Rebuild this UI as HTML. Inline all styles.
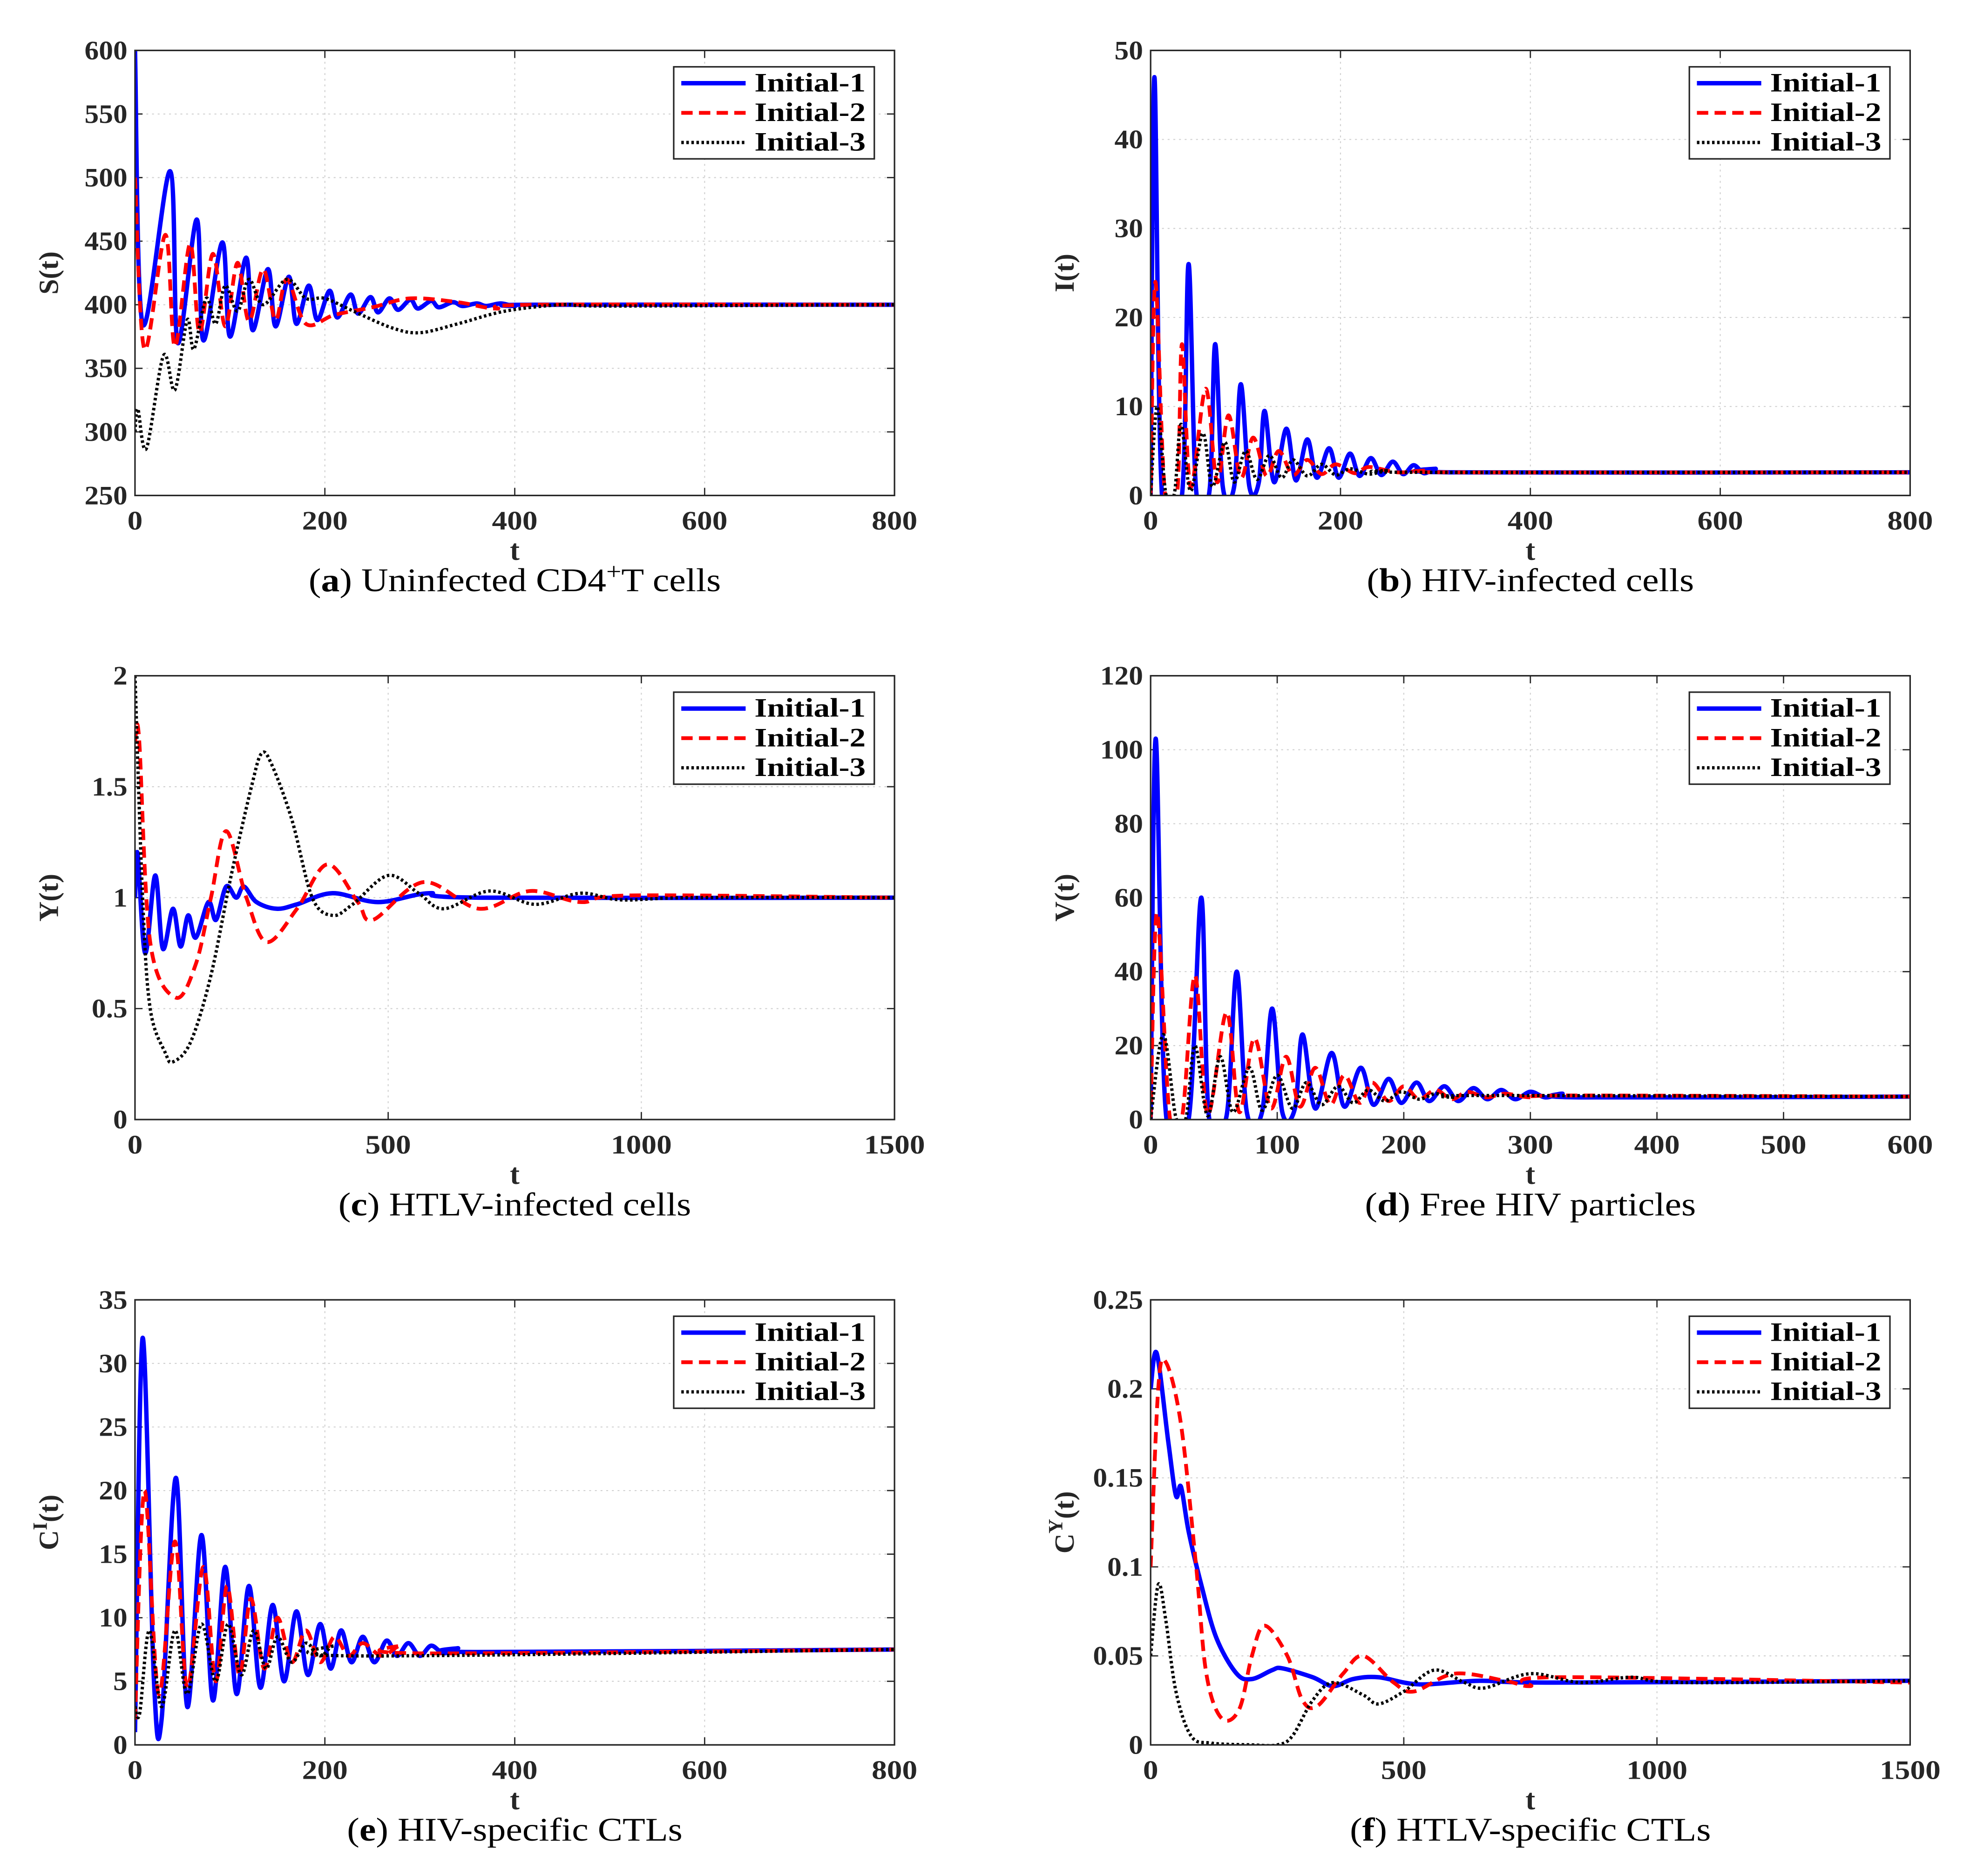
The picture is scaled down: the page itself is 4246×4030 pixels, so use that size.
<!DOCTYPE html>
<html><head><meta charset="utf-8"><style>
html,body{margin:0;padding:0;background:#fff}
svg{display:block}
text{font-family:"Liberation Serif",serif}
</style></head><body>
<svg id="fig" xmlns="http://www.w3.org/2000/svg" width="4246" height="4030" viewBox="0 0 1567 1488" preserveAspectRatio="none"></svg>
<script>
// ---- data (t arrays and value arrays per series) ----
const aT1=[0,8,37,45,65,72,92,100,117,124,140,148,162,170,183,192,205,213,227,235,248,256,268,277,290,298,312,320,335,345,360,370,385,400,420,800];
const aV1=[600,385,505,370,467,372,449,375,437,380,428,383,422,385,415,388,411,390,408,393,406,394,405,396,404,397,403,398,402,399,401,399,401,399,400,400];
const aT2=[0,10,32,42,58,68,82,95,108,120,135,148,160,180,210,250,290,340,380,420,800];
const aV2=[500,365,455,367,448,378,440,383,433,387,428,388,420,385,392,398,405,402,397,400,400];
const aT3=[0,3,12,30,42,55,62,75,85,95,108,120,135,160,180,200,230,270,300,340,390,450,500,800];
const aV3=[300,318,287,360,333,388,365,405,385,415,395,420,400,420,405,405,395,382,378,385,395,400,399,400];

const bT1=[0,4,12,33,40,48,62,68,76,88,95,104,114,120,130,143,153,165,175,188,198,210,220,232,243,255,266,277,288,300,320,800];
const bV1=[0,47,0,0,26,0.5,0.5,17,1,1,12.5,1,1.5,9.5,1.5,7.5,1.7,6.3,2,5.3,2,4.7,2.2,4.2,2.3,3.8,2.4,3.4,2.5,3,2.6,2.6];
const bT2=[0,5,15,28,33,42,58,70,82,95,108,122,135,150,165,180,195,215,230,260,290,320,800];
const bV2=[0,24,0.3,0.3,17,1,12,1.5,9,2,6.5,2.2,5,2.3,4,2.4,3.5,2.5,3.2,2.6,2.8,2.6,2.6];
const bT3=[0,7,16,25,32,42,55,65,78,88,100,112,125,138,150,165,180,195,210,230,250,280,800];
const bV3=[0,10,0.2,0.2,8,0.5,7,1,6,1.5,5,1.8,4.5,2,4,2.2,3.5,2.3,3,2.4,2.8,2.6,2.6];

const cT1=[0,5,20,40,55,75,90,105,120,145,160,180,200,215,240,280,320,390,480,580,680,1500];
const cV1=[1,1.2,0.75,1.1,0.77,0.95,0.78,0.92,0.82,0.98,0.9,1.05,1.0,1.05,0.98,0.95,0.97,1.02,0.98,1.02,1.0,1.0];
const cT2=[0,8,30,80,120,150,180,220,260,320,380,440,470,570,680,780,880,980,1500];
const cV2=[1.7,1.72,0.8,0.55,0.7,1.0,1.3,1.0,0.8,0.95,1.15,0.98,0.9,1.07,0.95,1.03,0.98,1.01,1.0];
const cT3=[0,15,30,60,75,110,150,190,230,250,270,310,350,390,430,500,560,610,700,790,880,960,1100,1500];
const cV3=[2,1.0,0.5,0.3,0.26,0.35,0.65,1.1,1.5,1.65,1.6,1.35,1.0,0.92,0.97,1.1,1.02,0.95,1.03,0.97,1.02,0.99,1.0,1.0];

const dT1=[0,4,12,30,40,46,60,68,76,88,96,104,114,120,130,143,153,166,176,188,198,210,220,232,243,255,266,277,288,300,312,325,340,600];
const dV1=[0,103,2,0,60,1,1,40,2,2,30,2,3,23,3,18,3.5,14,4,11,4.5,10,5,9,5,8.5,5.5,8,5.5,7.5,6,7,6,6.2];
const dT2=[0,5,15,25,35,45,60,70,82,95,107,118,130,142,153,165,175,188,200,212,225,238,250,265,280,300,330,600];
const dV2=[0,56,1,1,39,1.5,29,2,22,3,17,3.5,14,4,12,4.5,10,5,9,5.5,8,5.5,7.5,6,7,6,6.5,6.2];
const dT3=[0,10,20,28,35,45,55,65,78,88,100,112,123,135,148,160,172,185,198,212,225,240,260,600];
const dV3=[0,23,0.5,0.5,20,1,17,2,14,2.5,12,3,10,4,9,4.5,8,5,7.5,5.5,7,6,6.5,6.2];

const eT1=[0,8,20,28,43,55,70,82,95,107,120,132,145,157,170,182,195,206,217,228,240,252,265,276,288,300,312,325,340,360,800];
const eV1=[1,32,5,2,21,3,16.5,3.5,14,4,12.5,4.5,11,5,10.5,5.5,9.5,6,9,6.5,8.5,6.5,8.2,7,8,7,7.8,7.2,7.6,7.3,7.5];
const eT2=[0,10,25,42,55,72,85,97,110,122,136,150,165,180,195,210,225,240,260,280,300,800];
const eV2=[2,20,4,16,4.5,14,5,12.5,5.5,11.5,6,10,6.5,9,6.5,8.5,7,8,7,7.8,7.2,7.5];
const eT3=[0,5,15,28,42,55,70,85,98,112,125,138,150,165,180,195,210,230,800];
const eV3=[3,2.5,9,3,9,4,9.5,5,9.5,5.5,9,6,8.5,6.5,8,7,7.8,7,7.5];

const fT1=[0,12,35,50,60,75,100,130,170,200,240,260,320,360,400,450,530,650,800,1500];
const fV1=[0.2,0.22,0.17,0.14,0.145,0.12,0.09,0.06,0.04,0.037,0.042,0.043,0.038,0.033,0.037,0.038,0.034,0.036,0.035,0.036];
const fT2=[0,15,30,60,90,110,140,175,200,225,270,300,330,380,420,480,520,600,700,750,800,1500];
const fV2=[0.1,0.2,0.215,0.18,0.1,0.04,0.015,0.02,0.05,0.067,0.05,0.025,0.022,0.04,0.05,0.035,0.03,0.04,0.036,0.033,0.038,0.035];
const fT3=[0,15,30,50,80,120,200,250,280,320,360,420,450,500,560,620,660,750,850,950,1050,1500];
const fV3=[0.05,0.09,0.07,0.03,0.005,0.001,0,0,0.005,0.025,0.035,0.028,0.023,0.03,0.042,0.035,0.032,0.04,0.035,0.038,0.035,0.036];

const aXT=[0,200,400,600,800], aYT=[250,300,350,400,450,500,550,600];
const bXT=[0,200,400,600,800], bYT=[0,10,20,30,40,50];
const cXT=[0,500,1000,1500], cYT=[0,0.5,1,1.5,2];
const dXT=[0,100,200,300,400,500,600], dYT=[0,20,40,60,80,100,120];
const eXT=[0,200,400,600,800], eYT=[0,5,10,15,20,25,30,35];
const fXT=[0,500,1000,1500], fYT=[0,0.05,0.1,0.15,0.2,0.25];

const NS="http://www.w3.org/2000/svg";
const svg=document.getElementById('fig');
function mk(tag,attrs,parent){const e=document.createElementNS(NS,tag);for(const k in attrs)e.setAttribute(k,attrs[k]);(parent||svg).appendChild(e);return e;}
function smoothPath(P){
 let d='M'+P[0][0].toFixed(2)+','+P[0][1].toFixed(2);
 for(let i=0;i<P.length-1;i++){
  const p0=P[i-1]||P[i],p1=P[i],p2=P[i+1],p3=P[i+2]||P[i+1];
  const c1x=p1[0]+(p2[0]-p0[0])/6,c1y=p1[1]+(p2[1]-p0[1])/6;
  const c2x=p2[0]-(p3[0]-p1[0])/6,c2y=p2[1]-(p3[1]-p1[1])/6;
  d+=' C'+c1x.toFixed(2)+','+c1y.toFixed(2)+' '+c2x.toFixed(2)+','+c2y.toFixed(2)+' '+p2[0].toFixed(2)+','+p2[1].toFixed(2);
 }
 return d;
}
const defs=mk('defs',{});

const panels=[
 {id:'a',x0:107,x1:709,y0:40,y1:393,xt:aXT,yt:aYT,lab:'S(t)',cap:['a',' Uninfected CD4','+','T cells'],s:[[aT1,aV1],[aT2,aV2],[aT3,aV3]]},
 {id:'b',x0:912,x1:1514,y0:40,y1:393,xt:bXT,yt:bYT,lab:'I(t)',cap:['b',' HIV-infected cells'],s:[[bT1,bV1],[bT2,bV2],[bT3,bV3]]},
 {id:'c',x0:107,x1:709,y0:536,y1:888,xt:cXT,yt:cYT,lab:'Y(t)',cap:['c',' HTLV-infected cells'],s:[[cT1,cV1],[cT2,cV2],[cT3,cV3]]},
 {id:'d',x0:912,x1:1514,y0:536,y1:888,xt:dXT,yt:dYT,lab:'V(t)',cap:['d',' Free HIV particles'],s:[[dT1,dV1],[dT2,dV2],[dT3,dV3]]},
 {id:'e',x0:107,x1:709,y0:1031,y1:1384,xt:eXT,yt:eYT,lab:'CI',cap:['e',' HIV-specific CTLs'],s:[[eT1,eV1],[eT2,eV2],[eT3,eV3]]},
 {id:'f',x0:912,x1:1514,y0:1031,y1:1384,xt:fXT,yt:fYT,lab:'CY',cap:['f',' HTLV-specific CTLs'],s:[[fT1,fV1],[fT2,fV2],[fT3,fV3]]}
];
const styles=[
 {c:'#0000ff',w:3.5,d:'',n:'Initial-1'},
 {c:'#ff0000',w:3,d:'9 5',n:'Initial-2'},
 {c:'#000000',w:2.6,d:'2 2',n:'Initial-3'}
];

panels.forEach(p=>{
 const g=mk('g',{});
 
 
 const cp0=mk('clipPath',{id:'clip-'+p.id},defs);
 mk('rect',{x:p.x0,y:p.y0-2,width:p.x1-p.x0,height:p.y1-p.y0+2},cp0);
 const xmin=p.xt[0],xmax=p.xt[p.xt.length-1],ymin=p.yt[0],ymax=p.yt[p.yt.length-1];
 const X=v=>p.x0+(v-xmin)/(xmax-xmin)*(p.x1-p.x0);
 const Y=v=>p.y1-(v-ymin)/(ymax-ymin)*(p.y1-p.y0);
 mk('rect',{x:p.x0,y:p.y0,width:p.x1-p.x0,height:p.y1-p.y0,fill:'#fff'},g);
 p.xt.forEach(v=>{
  const x=X(v);
  if(v!==xmin&&v!==xmax){const gl=mk('line',{x1:x,x2:x,y1:p.y0,y2:p.y1,stroke:'#d0d0d0','stroke-width':0.8,'stroke-dasharray':'1.5 3'},g);}
  mk('line',{x1:x,x2:x,y1:p.y1,y2:p.y1-6,stroke:'#262626','stroke-width':1},g);
  mk('line',{x1:x,x2:x,y1:p.y0,y2:p.y0+6,stroke:'#262626','stroke-width':1},g);
  const t=mk('text',{x:0,y:0,'text-anchor':'middle','font-size':21,'font-weight':'bold',fill:'#262626',transform:`translate(${x},${p.y1+27}) scale(1.15,1)`},g);
  t.textContent=v;
  
  
 });
 p.yt.forEach(v=>{
  const y=Y(v);
  if(v!==ymin&&v!==ymax){const gl=mk('line',{x1:p.x0,x2:p.x1,y1:y,y2:y,stroke:'#d0d0d0','stroke-width':0.8,'stroke-dasharray':'1.5 3'},g);}
  mk('line',{x1:p.x0,x2:p.x0+6,y1:y,y2:y,stroke:'#262626','stroke-width':1},g);
  mk('line',{x1:p.x1,x2:p.x1-6,y1:y,y2:y,stroke:'#262626','stroke-width':1},g);
  const t=mk('text',{x:0,y:0,'text-anchor':'end','font-size':21,'font-weight':'bold',fill:'#262626',transform:`translate(${p.x0-6},${y+7}) scale(1.08,1)`},g);
  t.textContent=v;
  
  
 });
 const sg=mk('g',{'clip-path':'url(#clip-'+p.id+')'},g);
 p.s.forEach((sr,i)=>{
  const st=styles[i];
  const P=sr[0].map((t,k)=>[X(t),Y(sr[1][k])]);
  const pl=mk('path',{d:smoothPath(P),fill:'none',stroke:st.c,'stroke-width':st.w,'stroke-linejoin':'round','stroke-dasharray':st.d},sg);
  
  
 });
 const fr=mk('rect',{x:p.x0,y:p.y0,width:p.x1-p.x0,height:p.y1-p.y0,fill:'none',stroke:'#262626','stroke-width':1.2},g);
 
 
 const lx=p.x1-175,ly=p.y0+13;
 const lg=mk('g',{},g);
 
 
 mk('rect',{x:lx,y:ly,width:159,height:73,fill:'#fff',stroke:'#262626','stroke-width':1.2},lg);
 styles.forEach((st,i)=>{
  const yy=ly+13+i*23.5;
  mk('line',{x1:lx+6,x2:lx+57,y1:yy,y2:yy,stroke:st.c,'stroke-width':st.w,'stroke-dasharray':st.d},lg);
  const t=mk('text',{x:0,y:0,'font-size':20,'font-weight':'bold',fill:'#000',transform:`translate(${lx+64},${yy+6.5}) scale(1.28,1.05)`},lg);
  t.textContent=st.n;
  
  
 });
 const cx=(p.x0+p.x1)/2;
 const xl=mk('text',{x:cx,y:p.y1+51,'text-anchor':'middle','font-size':23,'font-weight':'bold',fill:'#262626'},g);
 xl.textContent='t';
 
 
 const cy=(p.y0+p.y1)/2;
 const yl=mk('text',{x:0,y:0,'text-anchor':'middle','font-size':22,'font-weight':'bold',fill:'#262626',transform:`translate(${p.x0-61},${cy}) rotate(-90)`},g);
 if(p.lab.length===2){
  yl.textContent='C';
  const ts=mk('tspan',{dy:-9,'font-size':16},yl);ts.textContent=p.lab[1];
  const ts2=mk('tspan',{dy:9},yl);ts2.textContent='(t)';
 } else yl.textContent=p.lab;
 
 
 const cp=mk('text',{x:0,y:0,'text-anchor':'middle','font-size':25,fill:'#000',transform:`translate(${cx},${p.y1+76}) scale(1.18,1.05)`},g);
 
 
 const a=mk('tspan',{},cp);a.textContent='(';
 const b=mk('tspan',{'font-weight':'bold'},cp);b.textContent=p.cap[0];
 const c=mk('tspan',{},cp);c.textContent=')'+p.cap[1];
 if(p.cap.length>2){const s=mk('tspan',{dy:-9,'font-size':18},cp);s.textContent=p.cap[2];const r=mk('tspan',{dy:9},cp);r.textContent=p.cap[3];}
});
</script>
</body></html>
